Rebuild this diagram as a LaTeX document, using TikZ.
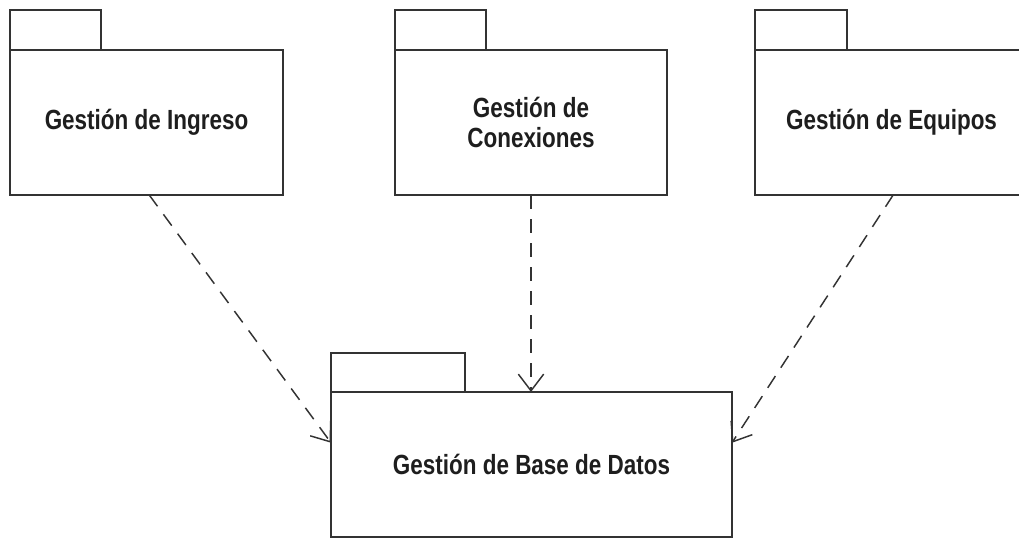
\documentclass[tikz,border=0pt]{standalone}
\usepackage{fontspec}
\newfontfamily\pkgfont{Liberation Sans}[FakeStretch=0.81]
\usetikzlibrary{arrows.meta,calc}

\definecolor{inkline}{HTML}{333333}
\definecolor{inktext}{HTML}{1E1E1E}

\tikzset{
  pkgbody/.style={draw=inkline, line width=1.1pt, fill=white, inner sep=0pt, outer sep=0pt,
    minimum height=108.75pt, align=center, text=inktext,
    font=\pkgfont\bfseries\fontsize{20.8pt}{22.5pt}\selectfont},
  pkgtab/.style={draw=inkline, line width=1.1pt, fill=white},
  dep/.style={draw=inkline, line width=1.1pt, dash pattern=on 10.5pt off 7.5pt,
    -{Straight Barb[length=12.5pt,width=19pt,line width=1.1pt]}}
}

\begin{document}
\begin{tikzpicture}[x=0.75pt,y=-0.75pt]
  \path[use as bounding box, clip] (0,0) rectangle (1019,538);
  \fill[white] (0,0) rectangle (1019,538);

  % package bodies
  \node[pkgbody, minimum width=204.75pt] (ing) at (146.5,122.5) {Gestión de Ingreso};
  \node[pkgbody, minimum width=204pt]    (con) at (531,122.5)   {Gestión de\\Conexiones};
  \node[pkgbody, minimum width=204.75pt] (eqp) at (891.5,122.5) {Gestión de Equipos};
  \node[pkgbody, minimum width=300.75pt] (bd)  at (531.5,464.5) {Gestión de Base de Datos};

  % package tabs
  \draw[pkgtab] (ing.north west) rectangle ++(91,-40);
  \draw[pkgtab] (con.north west) rectangle ++(91,-40);
  \draw[pkgtab] (eqp.north west) rectangle ++(92,-40);
  \draw[pkgtab] (bd.north west)  rectangle ++(134,-39);

  % dependencies
  \draw[dep] ($(ing.south west)!0.51!(ing.south east)$) -- ($(bd.north west)!0.35!(bd.south west)$);
  \draw[dep] (con.south) -- (con.south |- bd.north);
  \draw[dep] ($(eqp.south west)!0.506!(eqp.south east)$) -- ($(bd.north east)!0.35!(bd.south east)$);
\end{tikzpicture}
\end{document}
